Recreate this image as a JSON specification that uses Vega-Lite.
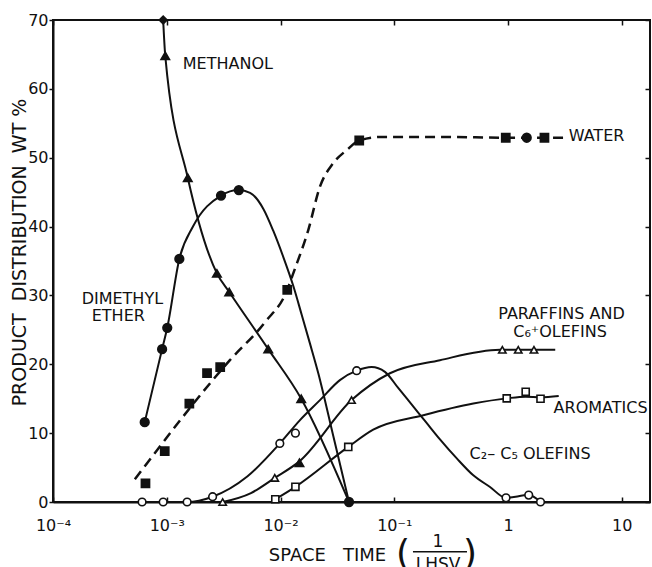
{
  "$schema": "https://vega.github.io/schema/vega-lite/v6.json",
  "width": 597,
  "height": 482,
  "autosize": {"type": "none"},
  "padding": {"left": 53, "top": 20, "right": 2, "bottom": 65},
  "background": "white",
  "config": {
    "view": {"stroke": "#111", "strokeWidth": 2},
    "font": "DejaVu Sans",
    "axis": {"grid": false, "domainColor": "#111", "domainWidth": 2, "tickColor": "#111", "tickWidth": 1.5, "labelColor": "#111", "titleColor": "#111", "labelFontSize": 16, "titleFontSize": 18, "titleFontWeight": "normal", "labelFont": "DejaVu Sans", "titleFont": "DejaVu Sans"},
    "text": {"font": "DejaVu Sans", "fontSize": 16, "color": "#111"}
  },
  "resolve": {"axis": {"x": "independent", "y": "independent"}},
  "datasets": {
    "curves": [
      {"series": "Methanol", "x": 0.00093, "y": 70},
      {"series": "Methanol", "x": 0.00097, "y": 64.8},
      {"series": "Methanol", "x": 0.00153, "y": 47.1},
      {"series": "Methanol", "x": 0.00276, "y": 33.2},
      {"series": "Methanol", "x": 0.00354, "y": 30.5},
      {"series": "Methanol", "x": 0.0078, "y": 22.2},
      {"series": "Methanol", "x": 0.0152, "y": 15.0},
      {"series": "Methanol", "x": 0.040, "y": 0},
      {"series": "Dimethyl ether", "x": 0.00064, "y": 11.6},
      {"series": "Dimethyl ether", "x": 0.00091, "y": 22.2},
      {"series": "Dimethyl ether", "x": 0.00101, "y": 25.3},
      {"series": "Dimethyl ether", "x": 0.00129, "y": 35.3},
      {"series": "Dimethyl ether", "x": 0.0017, "y": 40.0},
      {"series": "Dimethyl ether", "x": 0.0030, "y": 44.5},
      {"series": "Dimethyl ether", "x": 0.0043, "y": 45.3},
      {"series": "Dimethyl ether", "x": 0.0054, "y": 44.9},
      {"series": "Dimethyl ether", "x": 0.00705, "y": 42.6},
      {"series": "Dimethyl ether", "x": 0.00863, "y": 39.4},
      {"series": "Dimethyl ether", "x": 0.01057, "y": 35.6},
      {"series": "Dimethyl ether", "x": 0.01294, "y": 31.4},
      {"series": "Dimethyl ether", "x": 0.01535, "y": 27.2},
      {"series": "Dimethyl ether", "x": 0.01816, "y": 23.0},
      {"series": "Dimethyl ether", "x": 0.02148, "y": 18.7},
      {"series": "Dimethyl ether", "x": 0.02917, "y": 9.5},
      {"series": "Dimethyl ether", "x": 0.040, "y": 0},
      {"series": "Water", "x": 0.000524, "y": 3.3},
      {"series": "Water", "x": 0.00359, "y": 20.6},
      {"series": "Water", "x": 0.00729, "y": 26.1},
      {"series": "Water", "x": 0.01146, "y": 30.8},
      {"series": "Water", "x": 0.01294, "y": 33.2},
      {"series": "Water", "x": 0.01754, "y": 39.5},
      {"series": "Water", "x": 0.02222, "y": 45.8},
      {"series": "Water", "x": 0.02905, "y": 49.2},
      {"series": "Water", "x": 0.0381, "y": 51.1},
      {"series": "Water", "x": 0.0492, "y": 52.5},
      {"series": "Water", "x": 0.0748, "y": 53.0},
      {"series": "Water", "x": 0.3, "y": 53.0},
      {"series": "Water", "x": 0.955, "y": 52.9},
      {"series": "Water", "x": 3.2, "y": 52.9},
      {"series": "C2-C5 olefins", "x": 0.000607, "y": 0},
      {"series": "C2-C5 olefins", "x": 0.00093, "y": 0},
      {"series": "C2-C5 olefins", "x": 0.00151, "y": 0},
      {"series": "C2-C5 olefins", "x": 0.00253, "y": 0.77},
      {"series": "C2-C5 olefins", "x": 0.0051, "y": 3.7},
      {"series": "C2-C5 olefins", "x": 0.00986, "y": 8.5},
      {"series": "C2-C5 olefins", "x": 0.01483, "y": 11.9},
      {"series": "C2-C5 olefins", "x": 0.02222, "y": 14.8},
      {"series": "C2-C5 olefins", "x": 0.03327, "y": 17.7},
      {"series": "C2-C5 olefins", "x": 0.0467, "y": 19.07},
      {"series": "C2-C5 olefins", "x": 0.0632, "y": 19.6},
      {"series": "C2-C5 olefins", "x": 0.0828, "y": 18.9},
      {"series": "C2-C5 olefins", "x": 0.1078, "y": 16.6},
      {"series": "C2-C5 olefins", "x": 0.1431, "y": 14.1},
      {"series": "C2-C5 olefins", "x": 0.19, "y": 11.6},
      {"series": "C2-C5 olefins", "x": 0.2522, "y": 9.1},
      {"series": "C2-C5 olefins", "x": 0.356, "y": 6.3},
      {"series": "C2-C5 olefins", "x": 0.4922, "y": 3.92},
      {"series": "C2-C5 olefins", "x": 0.6946, "y": 2.18},
      {"series": "C2-C5 olefins", "x": 0.96, "y": 0.6},
      {"series": "C2-C5 olefins", "x": 1.52, "y": 1.0},
      {"series": "C2-C5 olefins", "x": 1.93, "y": 0},
      {"series": "Paraffins and C6+ olefins", "x": 0.0031, "y": 0},
      {"series": "Paraffins and C6+ olefins", "x": 0.0055, "y": 1.3},
      {"series": "Paraffins and C6+ olefins", "x": 0.0089, "y": 3.5},
      {"series": "Paraffins and C6+ olefins", "x": 0.01466, "y": 5.9},
      {"series": "Paraffins and C6+ olefins", "x": 0.0421, "y": 14.8},
      {"series": "Paraffins and C6+ olefins", "x": 0.0916, "y": 18.7},
      {"series": "Paraffins and C6+ olefins", "x": 0.2522, "y": 20.6},
      {"series": "Paraffins and C6+ olefins", "x": 0.851, "y": 22.1},
      {"series": "Paraffins and C6+ olefins", "x": 1.23, "y": 22.1},
      {"series": "Paraffins and C6+ olefins", "x": 1.69, "y": 22.1},
      {"series": "Paraffins and C6+ olefins", "x": 2.6, "y": 22.1},
      {"series": "Aromatics", "x": 0.009, "y": 0.4},
      {"series": "Aromatics", "x": 0.01352, "y": 2.2},
      {"series": "Aromatics", "x": 0.0394, "y": 8.0},
      {"series": "Aromatics", "x": 0.0653, "y": 10.5},
      {"series": "Aromatics", "x": 0.18, "y": 12.6},
      {"series": "Aromatics", "x": 0.4955, "y": 14.3},
      {"series": "Aromatics", "x": 0.974, "y": 15.05},
      {"series": "Aromatics", "x": 1.43, "y": 15.3},
      {"series": "Aromatics", "x": 1.93, "y": 15.2},
      {"series": "Aromatics", "x": 2.79, "y": 15.4}
    ],
    "points": [
      {"series": "Methanol", "marker": "filled diamond", "x": 0.00093, "y": 70},
      {"series": "Methanol", "marker": "filled triangle", "x": 0.00097, "y": 64.8},
      {"series": "Methanol", "marker": "filled triangle", "x": 0.00153, "y": 47.1},
      {"series": "Methanol", "marker": "filled triangle", "x": 0.00276, "y": 33.2},
      {"series": "Methanol", "marker": "filled triangle", "x": 0.00354, "y": 30.5},
      {"series": "Methanol", "marker": "filled triangle", "x": 0.0078, "y": 22.2},
      {"series": "Methanol", "marker": "filled triangle", "x": 0.0152, "y": 15.0},
      {"series": "Dimethyl ether", "marker": "filled circle", "x": 0.00064, "y": 11.6},
      {"series": "Dimethyl ether", "marker": "filled circle", "x": 0.00091, "y": 22.2},
      {"series": "Dimethyl ether", "marker": "filled circle", "x": 0.00101, "y": 25.3},
      {"series": "Dimethyl ether", "marker": "filled circle", "x": 0.00129, "y": 35.3},
      {"series": "Dimethyl ether", "marker": "filled circle", "x": 0.0030, "y": 44.5},
      {"series": "Dimethyl ether", "marker": "filled circle", "x": 0.0043, "y": 45.3},
      {"series": "Dimethyl ether", "marker": "filled circle", "x": 0.040, "y": 0},
      {"series": "Water", "marker": "filled square", "x": 0.00065, "y": 2.7},
      {"series": "Water", "marker": "filled square", "x": 0.00096, "y": 7.4},
      {"series": "Water", "marker": "filled square", "x": 0.00158, "y": 14.3},
      {"series": "Water", "marker": "filled square", "x": 0.00226, "y": 18.7},
      {"series": "Water", "marker": "filled square", "x": 0.00295, "y": 19.6},
      {"series": "Water", "marker": "filled square", "x": 0.01146, "y": 30.8},
      {"series": "Water", "marker": "filled square", "x": 0.0492, "y": 52.5},
      {"series": "Water", "marker": "filled square", "x": 0.955, "y": 52.9},
      {"series": "Water", "marker": "filled circle", "x": 1.46, "y": 52.9},
      {"series": "Water", "marker": "filled square", "x": 2.09, "y": 52.9},
      {"series": "C2-C5 olefins", "marker": "open circle", "x": 0.000607, "y": 0},
      {"series": "C2-C5 olefins", "marker": "open circle", "x": 0.00093, "y": 0},
      {"series": "C2-C5 olefins", "marker": "open circle", "x": 0.00151, "y": 0},
      {"series": "C2-C5 olefins", "marker": "open circle", "x": 0.00253, "y": 0.77},
      {"series": "C2-C5 olefins", "marker": "open circle", "x": 0.00986, "y": 8.5},
      {"series": "C2-C5 olefins", "marker": "open circle", "x": 0.01352, "y": 10.0},
      {"series": "C2-C5 olefins", "marker": "open circle", "x": 0.0467, "y": 19.07},
      {"series": "C2-C5 olefins", "marker": "open circle", "x": 0.96, "y": 0.6},
      {"series": "C2-C5 olefins", "marker": "open circle", "x": 1.52, "y": 1.0},
      {"series": "C2-C5 olefins", "marker": "open circle", "x": 1.93, "y": 0},
      {"series": "Paraffins and C6+ olefins", "marker": "open triangle", "x": 0.0031, "y": 0},
      {"series": "Paraffins and C6+ olefins", "marker": "open triangle", "x": 0.0089, "y": 3.5},
      {"series": "Paraffins and C6+ olefins", "marker": "filled triangle", "x": 0.01466, "y": 5.7},
      {"series": "Paraffins and C6+ olefins", "marker": "open triangle", "x": 0.0421, "y": 14.8},
      {"series": "Paraffins and C6+ olefins", "marker": "open triangle", "x": 0.891, "y": 22.1},
      {"series": "Paraffins and C6+ olefins", "marker": "open triangle", "x": 1.23, "y": 22.1},
      {"series": "Paraffins and C6+ olefins", "marker": "open triangle", "x": 1.69, "y": 22.1},
      {"series": "Aromatics", "marker": "open square", "x": 0.009, "y": 0.4},
      {"series": "Aromatics", "marker": "open square", "x": 0.01352, "y": 2.2},
      {"series": "Aromatics", "marker": "open square", "x": 0.0394, "y": 8.0},
      {"series": "Aromatics", "marker": "open square", "x": 0.974, "y": 15.05},
      {"series": "Aromatics", "marker": "open square", "x": 1.43, "y": 16.0},
      {"series": "Aromatics", "marker": "open square", "x": 1.93, "y": 15.0}
    ],
    "labels": [
      {"text": "METHANOL", "x": 0.003445, "y": 63.6},
      {"text": "DIMETHYL", "x": 0.000407, "y": 29.5},
      {"text": "ETHER", "x": 0.000375, "y": 27.0},
      {"text": "WATER", "x": 6.0, "y": 53.15},
      {"text": "PARAFFINS AND", "x": 2.954, "y": 27.3},
      {"text": "C₆⁺OLEFINS", "x": 2.866, "y": 24.7},
      {"text": "AROMATICS", "x": 6.51, "y": 13.65},
      {"text": "C₂– C₅ OLEFINS", "x": 1.562, "y": 7.0}
    ],
    "fraction": [
      {"text": "1", "x": 0.2423, "y": -5.74},
      {"text": "LHSV", "x": 0.2423, "y": -9.2}
    ],
    "parens": [
      {"text": "(", "x": 0.1193, "y": -7.5},
      {"text": ")", "x": 0.4631, "y": -7.5}
    ],
    "bar": [
      {"x": 0.146, "x2": 0.4357, "y": -7.22}
    ]
  },
  "layer": [
    {
      "data": {"name": "curves"},
      "transform": [{"filter": "datum.series !== 'Water'"}],
      "mark": {"type": "line", "interpolate": "monotone", "color": "#111", "strokeWidth": 2},
      "encoding": {
        "x": {"field": "x", "type": "quantitative", "scale": {"type": "log", "domain": [0.0001, 17.7]},
          "axis": {"orient": "bottom", "values": [0.0001, 0.001, 0.01, 0.1, 1, 10], "tickSize": -5, "labelPadding": 20, "labelFlush": false,
            "labelExpr": "datum.value >= 1 ? format(datum.value, 'd') : '10' + (datum.value < 0.0005 ? '⁻⁴' : datum.value < 0.005 ? '⁻³' : datum.value < 0.05 ? '⁻²' : '⁻¹')",
            "title": "SPACE\u00a0\u00a0\u00a0TIME", "titleX": 274, "titleY": 53, "titleBaseline": "middle", "titleAlign": "center"}},
        "y": {"field": "y", "type": "quantitative", "scale": {"domain": [0, 70], "nice": false},
          "axis": {"orient": "left", "values": [0, 10, 20, 30, 40, 50, 60, 70], "tickSize": 4, "labelPadding": 1,
            "title": "PRODUCT\u00a0\u00a0DISTRIBUTION\u00a0\u00a0WT\u00a0%", "titleFontSize": 19, "titleX": -34, "titleY": 232, "titleAngle": -90, "titleAlign": "center", "titleBaseline": "middle"}},
        "detail": {"field": "series"}
      }
    },
    {
      "data": {"name": "curves"},
      "transform": [{"filter": "datum.series === 'Water'"}],
      "mark": {"type": "line", "interpolate": "monotone", "color": "#111", "strokeWidth": 2.5, "strokeDash": [10, 6]},
      "encoding": {
        "x": {"field": "x", "type": "quantitative", "scale": {"type": "log", "domain": [0.0001, 17.7]},
          "axis": {"orient": "top", "values": [0.0001, 0.001, 0.01, 0.1, 1, 10], "tickSize": -5, "labels": false, "domain": false, "title": null}},
        "y": {"field": "y", "type": "quantitative", "scale": {"domain": [0, 70], "nice": false},
          "axis": {"orient": "right", "values": [0, 10, 20, 30, 40, 50, 60, 70], "tickSize": -5, "labels": false, "domain": false, "title": null}}
      }
    },
    {
      "data": {"name": "points"},
      "mark": {"type": "point", "stroke": "#111", "strokeWidth": 1.6, "opacity": 1},
      "encoding": {
        "x": {"field": "x", "type": "quantitative", "scale": {"type": "log", "domain": [0.0001, 17.7]}, "axis": null},
        "y": {"field": "y", "type": "quantitative", "scale": {"domain": [0, 70], "nice": false}, "axis": null},
        "shape": {"field": "marker", "type": "nominal", "legend": null,
          "scale": {"domain": ["filled circle", "filled triangle", "filled square", "filled diamond", "open circle", "open triangle", "open square"],
                    "range": ["circle", "triangle-up", "square", "diamond", "circle", "triangle-up", "square"]}},
        "fill": {"field": "marker", "type": "nominal", "legend": null,
          "scale": {"domain": ["filled circle", "filled triangle", "filled square", "filled diamond", "open circle", "open triangle", "open square"],
                    "range": ["#111", "#111", "#111", "#111", "white", "white", "white"]}},
        "size": {"field": "marker", "type": "nominal", "legend": null,
          "scale": {"domain": ["filled circle", "filled triangle", "filled square", "filled diamond", "open circle", "open triangle", "open square"],
                    "range": [75, 50, 80, 70, 50, 40, 50]}}
      }
    },
    {
      "data": {"name": "labels"},
      "mark": {"type": "text", "align": "center", "baseline": "middle", "fontSize": 16},
      "encoding": {
        "x": {"field": "x", "type": "quantitative", "scale": {"type": "log", "domain": [0.0001, 17.7]}, "axis": null},
        "y": {"field": "y", "type": "quantitative", "scale": {"domain": [0, 70], "nice": false}, "axis": null},
        "text": {"field": "text"}
      }
    },
    {
      "data": {"name": "fraction"},
      "mark": {"type": "text", "align": "center", "baseline": "middle", "fontSize": 17},
      "encoding": {
        "x": {"field": "x", "type": "quantitative", "scale": {"type": "log", "domain": [0.0001, 17.7]}, "axis": null},
        "y": {"field": "y", "type": "quantitative", "scale": {"domain": [0, 70], "nice": false}, "axis": null},
        "text": {"field": "text"}
      }
    },
    {
      "data": {"name": "parens"},
      "mark": {"type": "text", "align": "center", "baseline": "middle", "fontSize": 36, "font": "DejaVu Sans"},
      "encoding": {
        "x": {"field": "x", "type": "quantitative", "scale": {"type": "log", "domain": [0.0001, 17.7]}, "axis": null},
        "y": {"field": "y", "type": "quantitative", "scale": {"domain": [0, 70], "nice": false}, "axis": null},
        "text": {"field": "text"}
      }
    },
    {
      "data": {"name": "bar"},
      "mark": {"type": "rule", "color": "#111", "strokeWidth": 1.5},
      "encoding": {
        "x": {"field": "x", "type": "quantitative", "scale": {"type": "log", "domain": [0.0001, 17.7]}, "axis": null},
        "x2": {"field": "x2"},
        "y": {"field": "y", "type": "quantitative", "scale": {"domain": [0, 70], "nice": false}, "axis": null}
      }
    }
  ]
}
